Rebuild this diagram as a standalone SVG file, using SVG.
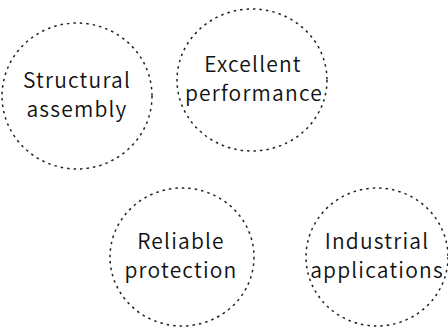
<svg xmlns="http://www.w3.org/2000/svg" width="448" height="329" viewBox="0 0 448 329">
<style>
.c{fill:none;stroke:#222;stroke-width:1.5;stroke-dasharray:2.5 4}
.t{font-family:"Noto Sans CJK SC","Noto Sans",sans-serif;font-size:21px;font-weight:350;letter-spacing:1.2px;fill:#111;text-anchor:middle}
</style>
<rect width="448" height="329" fill="#fff"/>
<g id="n1"><ellipse class="c" cx="77" cy="96" rx="75" ry="73"/><text class="t" x="77" y="88">Structural</text><text class="t" x="77" y="117">assembly</text></g>
<g id="n2"><ellipse class="c" cx="252" cy="80" rx="75" ry="71"/><text class="t" x="253" y="72">Excellent</text><text class="t" x="254" y="101">performance</text></g>
<g id="n3"><ellipse class="c" cx="182" cy="257" rx="72" ry="69"/><text class="t" x="181" y="249">Reliable</text><text class="t" x="181" y="278">protection</text></g>
<g id="n4"><ellipse class="c" cx="377" cy="257" rx="71" ry="69"/><text class="t" x="377" y="249">Industrial</text><text class="t" x="377" y="278">applications</text></g>
<g id="connectors"></g>
</svg>
